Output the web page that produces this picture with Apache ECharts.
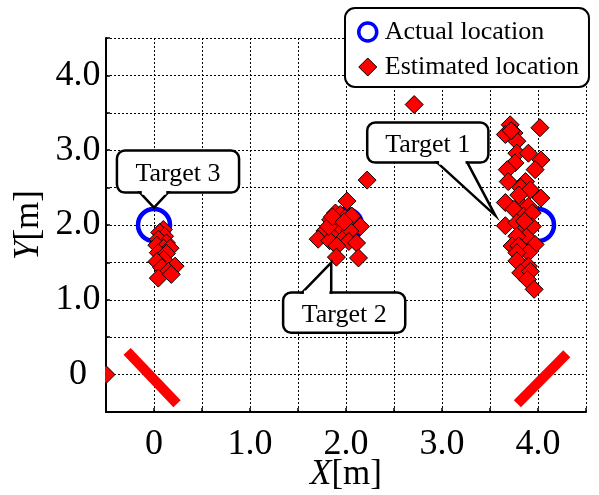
<!DOCTYPE html>
<html>
<head>
<meta charset="utf-8">
<script src="https://cdn.jsdelivr.net/npm/echarts@6/dist/echarts.min.js"></script>
<style>
html,body{margin:0;padding:0;background:#fff;}
#chart{width:599px;height:495px;}
</style>
</head>
<body>
<div id="chart"></div>
<script>
// ---- data ----
const xTickValues = [0, 1, 2, 3, 4];
const xTickLabels = ['0', '1.0', '2.0', '3.0', '4.0'];
const yTickValues = [0, 1, 2, 3, 4];
const yTickLabels = ['0', '1.0', '2.0', '3.0', '4.0'];

const actualX = [4.0, 2.0, 0.0];
const actualY = [2.0, 2.0, 2.0];

const target1X = [3.71, 4.02, 3.66, 3.75, 3.78, 3.78, 3.90, 4.03, 3.76, 3.68, 3.97, 3.69, 3.87, 3.82, 3.92, 4.03, 3.66, 3.82, 3.90, 3.75, 3.85, 3.94, 3.66, 3.78, 3.94, 3.82, 3.88, 3.78, 3.97, 3.73, 3.80, 3.90, 3.78, 3.78, 3.90, 3.82, 3.92, 3.89, 3.96, 3.72, 3.86, 3.80];
const target1Y = [3.34, 3.30, 3.21, 3.23, 3.12, 2.96, 2.96, 2.87, 2.83, 2.74, 2.74, 2.58, 2.58, 2.50, 2.47, 2.36, 2.30, 2.27, 2.25, 2.21, 2.12, 2.16, 1.99, 2.03, 1.98, 1.89, 1.84, 1.85, 1.74, 1.72, 1.72, 1.63, 1.63, 1.52, 1.45, 1.36, 1.38, 1.27, 1.14, 3.26, 2.05, 2.40];
const target2X = [2.01, 1.89, 1.94, 1.84, 1.99, 2.06, 1.92, 2.15, 1.78, 2.04, 1.71, 1.87, 1.96, 2.03, 2.11, 1.83, 1.905, 2.13, 1.90, 1.82, 1.86, 1.98, 2.22, 2.71];
const target2Y = [2.32, 2.16, 2.14, 2.07, 2.09, 2.12, 1.98, 1.98, 1.92, 1.92, 1.81, 1.83, 1.80, 1.78, 1.76, 1.79, 1.72, 1.56, 1.57, 1.98, 2.11, 2.04, 2.60, 3.61];
const target3X = [0.097, 0.06, 0.11, 0.045, 0.13, 0.03, 0.10, 0.167, 0.045, 0.13, 0.10, 0.03, 0.22, 0.08, 0.15, 0.045, 0.18, -0.5];
const target3Y = [1.94, 1.90, 1.85, 1.81, 1.76, 1.73, 1.69, 1.69, 1.63, 1.62, 1.54, 1.51, 1.45, 1.43, 1.38, 1.29, 1.34, 0.0];

const sensorA = [[-0.28, 0.31], [0.24, -0.39]];
const sensorB = [[3.785, -0.39], [4.30, 0.28]];

const callouts = [
  { text: 'Target 1', box: [2.221, 3.483, 2.834, 3.369], base: [2.951, 3.264], side: 'bottom', tip: [3.556, 2.126] },
  { text: 'Target 2', box: [1.345, 2.617, 0.561, 1.096], base: [1.543, 1.846], side: 'top', tip: [1.846, 1.497] },
  { text: 'Target 3', box: [-0.386, 0.886, 2.433, 2.995], base: [-0.146, 0.146], side: 'bottom', tip: [0.0, 2.233] }
];

// ---- build ----
const FONT = '"Liberation Serif", "Times New Roman", serif';
const zip = (xs, ys) => xs.map((x, i) => [x, ys[i]]);
const estimated = zip(target1X, target1Y).concat(zip(target2X, target2Y), zip(target3X, target3Y));
const actual = zip(actualX, actualY);

function fmt(values, labels) {
  return v => {
    const i = values.findIndex(t => Math.abs(t - v) < 1e-9);
    return i >= 0 ? labels[i] : '';
  };
}

const chart = echarts.init(document.getElementById('chart'), null, { renderer: 'canvas' });
const gridLine = { show: true, lineStyle: { color: '#000', type: [2, 2], width: 1 } };
const nameStyle = { color: '#000', fontFamily: FONT, fontSize: 35,
  rich: { i: { fontStyle: 'italic', fontFamily: FONT, fontSize: 35, color: '#000' } } };

const option = {
  animation: false,
  backgroundColor: '#fff',
  grid: { left: 106, top: 38, width: 480, height: 374, containLabel: false, outerBoundsMode: 'none' },
  xAxis: {
    type: 'value', min: -0.5, max: 4.5, interval: 0.5,
    axisLine: { show: true, onZero: false, lineStyle: { color: '#000', width: 2 } },
    axisTick: { show: true, inside: true, length: 4, lineStyle: { color: '#000', width: 1.5 } },
    splitLine: gridLine,
    axisLabel: { formatter: fmt(xTickValues, xTickLabels), color: '#000', fontFamily: FONT, fontSize: 36, margin: 15 },
    name: '{i|X}[m]', nameLocation: 'middle', nameGap: 45, nameMoveOverlap: false, nameTextStyle: nameStyle
  },
  yAxis: {
    type: 'value', min: -0.5, max: 4.5, interval: 0.5,
    axisLine: { show: true, onZero: false, lineStyle: { color: '#000', width: 2 } },
    axisTick: { show: true, inside: true, length: 4, lineStyle: { color: '#000', width: 1.5 } },
    splitLine: gridLine,
    axisLabel: { formatter: fmt(yTickValues, yTickLabels), color: '#000', fontFamily: FONT, fontSize: 36, margin: 28, align: 'center', padding: [16, 0, 0, 0] },
    name: '{i|Y}[m]', nameLocation: 'middle', nameGap: 60, nameRotate: 90, nameMoveOverlap: false, nameTextStyle: nameStyle
  },
  legend: {
    left: 345, top: 8, orient: 'vertical',
    backgroundColor: '#fff', borderColor: '#000', borderWidth: 2, borderRadius: 10,
    padding: [11, 10, 7, 12], itemGap: 9, itemWidth: 18, itemHeight: 18,
    textStyle: { color: '#000', fontFamily: FONT, fontSize: 26, padding: [0, 0, 0, 3] },
    data: [
      { name: 'Actual location', icon: 'circle', itemStyle: { color: 'rgba(0,0,0,0)', borderColor: '#0000ff', borderWidth: 3.5 } },
      { name: 'Estimated location', icon: 'diamond', itemStyle: { color: '#ff0000', borderColor: '#000', borderWidth: 1 } }
    ],
    z: 20
  },
  series: [
    { name: 'sensorA', type: 'line', data: sensorA, symbol: 'none', silent: true, z: 1,
      lineStyle: { color: '#ff0000', width: 10, cap: 'butt' } },
    { name: 'sensorB', type: 'line', data: sensorB, symbol: 'none', silent: true, z: 1,
      lineStyle: { color: '#ff0000', width: 10, cap: 'butt' } },
    { name: 'Actual location', type: 'scatter', data: actual, symbol: 'circle', symbolSize: 32, z: 2,
      itemStyle: { color: 'rgba(0,0,0,0)', borderColor: '#0000ff', borderWidth: 4.5, opacity: 1 } },
    { name: 'Estimated location', type: 'scatter', data: estimated, symbol: 'diamond', symbolSize: 18, z: 3,
      itemStyle: { color: '#ff0000', borderColor: '#000', borderWidth: 1, opacity: 1 } }
  ]
};
chart.setOption(option);

// callouts & edge clipping, positioned from data coordinates
function px(p) { return chart.convertToPixel({ gridIndex: 0 }, p); }
const elements = [];
callouts.forEach(c => {
  const tl = px([c.box[0], Math.max(c.box[2], c.box[3])]);
  const br = px([c.box[1], Math.min(c.box[2], c.box[3])]);
  const tip = px(c.tip);
  const yEdge = c.side === 'bottom' ? br[1] : tl[1];
  const b1 = px([c.base[0], 0])[0];
  const b2 = px([c.base[1], 0])[0];
  elements.push({
    type: 'group', z: 50,
    children: [
      { type: 'rect', shape: { x: tl[0], y: tl[1], width: br[0] - tl[0], height: br[1] - tl[1], r: 8 },
        style: { fill: '#fff', stroke: '#000', lineWidth: 2.5 }, z: 50 },
      { type: 'polygon', shape: { points: [[b1, yEdge], tip, [b2, yEdge]] },
        style: { fill: '#fff', stroke: '#000', lineWidth: 2.5, lineJoin: 'miter' }, z: 51 },
      { type: 'line', shape: { x1: b1 + 1.8, y1: yEdge, x2: b2 - 1.8, y2: yEdge },
        style: { stroke: '#fff', lineWidth: 4 }, z: 52 },
      { type: 'text', x: (tl[0] + br[0]) / 2, y: (tl[1] + br[1]) / 2 + 2.5,
        style: { text: c.text, fill: '#000', font: '26px ' + FONT, align: 'center', verticalAlign: 'middle' }, z: 53 }
    ]
  });
});
// white mask just outside the left plot edge (marks are cut at the frame)
const leftEdge = px([-0.5, 0]);
elements.push({ type: 'rect', z: 60, shape: { x: leftEdge[0] - 13, y: leftEdge[1] - 14, width: 12, height: 28 },
  style: { fill: '#fff' } });
chart.setOption({ graphic: { elements } });
</script>
</body>
</html>
